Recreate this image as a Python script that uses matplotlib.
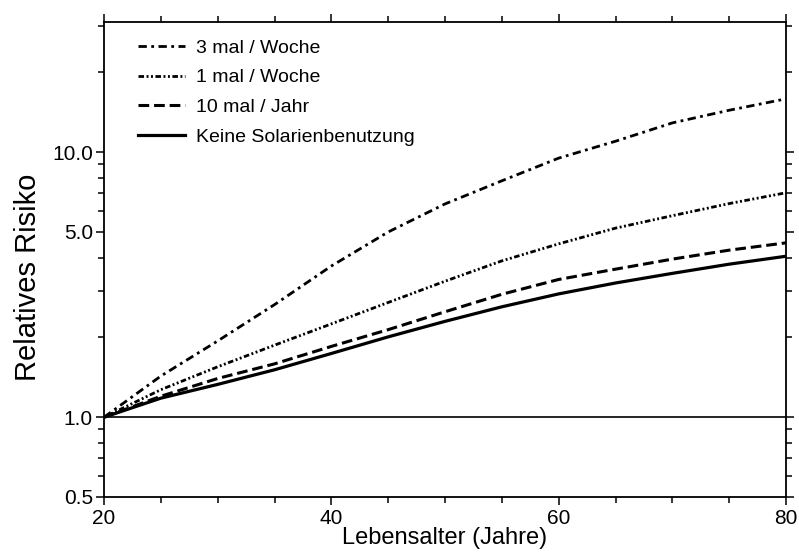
import matplotlib
matplotlib.use("Agg")
import matplotlib.pyplot as plt
from matplotlib.ticker import LogLocator, FixedLocator, NullFormatter, FixedFormatter, MultipleLocator

plt.rcParams['font.family'] = ['Liberation Sans', 'DejaVu Sans']

age = [20, 25, 30, 35, 40, 45, 50, 55, 60, 65, 70, 75, 80]
risk_3_week = [1.0, 1.43, 1.94, 2.66, 3.72, 5.0, 6.38, 7.8, 9.5, 11.0, 12.9, 14.4, 15.9]
risk_1_week = [1.0, 1.27, 1.55, 1.87, 2.25, 2.71, 3.26, 3.89, 4.51, 5.17, 5.76, 6.40, 7.03]
risk_10_year = [1.0, 1.20, 1.40, 1.59, 1.85, 2.14, 2.50, 2.91, 3.31, 3.62, 3.95, 4.27, 4.55]
risk_none = [1.0, 1.18, 1.33, 1.51, 1.74, 2.01, 2.30, 2.61, 2.92, 3.21, 3.49, 3.78, 4.05]

labels = ["3 mal / Woche", "1 mal / Woche", "10 mal / Jahr", "Keine Solarienbenutzung"]
yticks = [0.5, 1.0, 5.0, 10.0]
ytick_labels = ["0.5", "1.0", "5.0", "10.0"]
xticks = [20, 40, 60, 80]

fig = plt.figure(figsize=(7.99, 5.58), dpi=100)
ax = fig.add_axes([104/799, 1-497/558, 682/799, 475/558])

ax.plot(age, risk_3_week, color='black', lw=2.0, linestyle=(0, (3, 1.6, 1, 1.6)), label=labels[0])
ax.plot(age, risk_1_week, color='black', lw=2.0, linestyle=(0, (2, 0.9, 0.7, 0.9, 0.7, 0.9)), label=labels[1])
ax.plot(age, risk_10_year, color='black', lw=2.2, linestyle=(0, (3.5, 1.6)), label=labels[2])
ax.plot(age, risk_none, color='black', lw=2.3, linestyle='-', label=labels[3])
ax.axhline(1.0, color='black', lw=1.2)

ax.set_yscale('log')
ax.set_xlim(20, 80)
ax.set_ylim(0.5, 31)

ax.yaxis.set_major_locator(FixedLocator(yticks))
ax.yaxis.set_major_formatter(FixedFormatter(ytick_labels))
ax.yaxis.set_minor_locator(LogLocator(base=10, subs=[2, 3, 4, 6, 7, 8, 9], numticks=20))
ax.yaxis.set_minor_formatter(NullFormatter())
ax.xaxis.set_major_locator(FixedLocator(xticks))
ax.xaxis.set_minor_locator(MultipleLocator(5))

ax.tick_params(which='both', direction='out', top=True, right=True, width=1.1, colors='black')
ax.tick_params(which='major', length=6, labelsize=15)
ax.tick_params(which='minor', length=4)
ax.tick_params(axis='x', pad=3)
ax.tick_params(axis='y', pad=2)

for s in ax.spines.values():
    s.set_linewidth(1.3)

ax.set_xlabel("Lebensalter (Jahre)", fontsize=17, labelpad=-1)
ax.set_ylabel("Relatives Risiko", fontsize=21, va='center')
ax.yaxis.set_label_coords(-0.112, 0.463)

leg = ax.legend(loc='upper left', bbox_to_anchor=(0.05, 0.964), frameon=False, fontsize=14,
                handlelength=2.4, labelspacing=0.62, handletextpad=0.6, borderpad=0, borderaxespad=0)

fig.savefig("out.png", dpi=100)
